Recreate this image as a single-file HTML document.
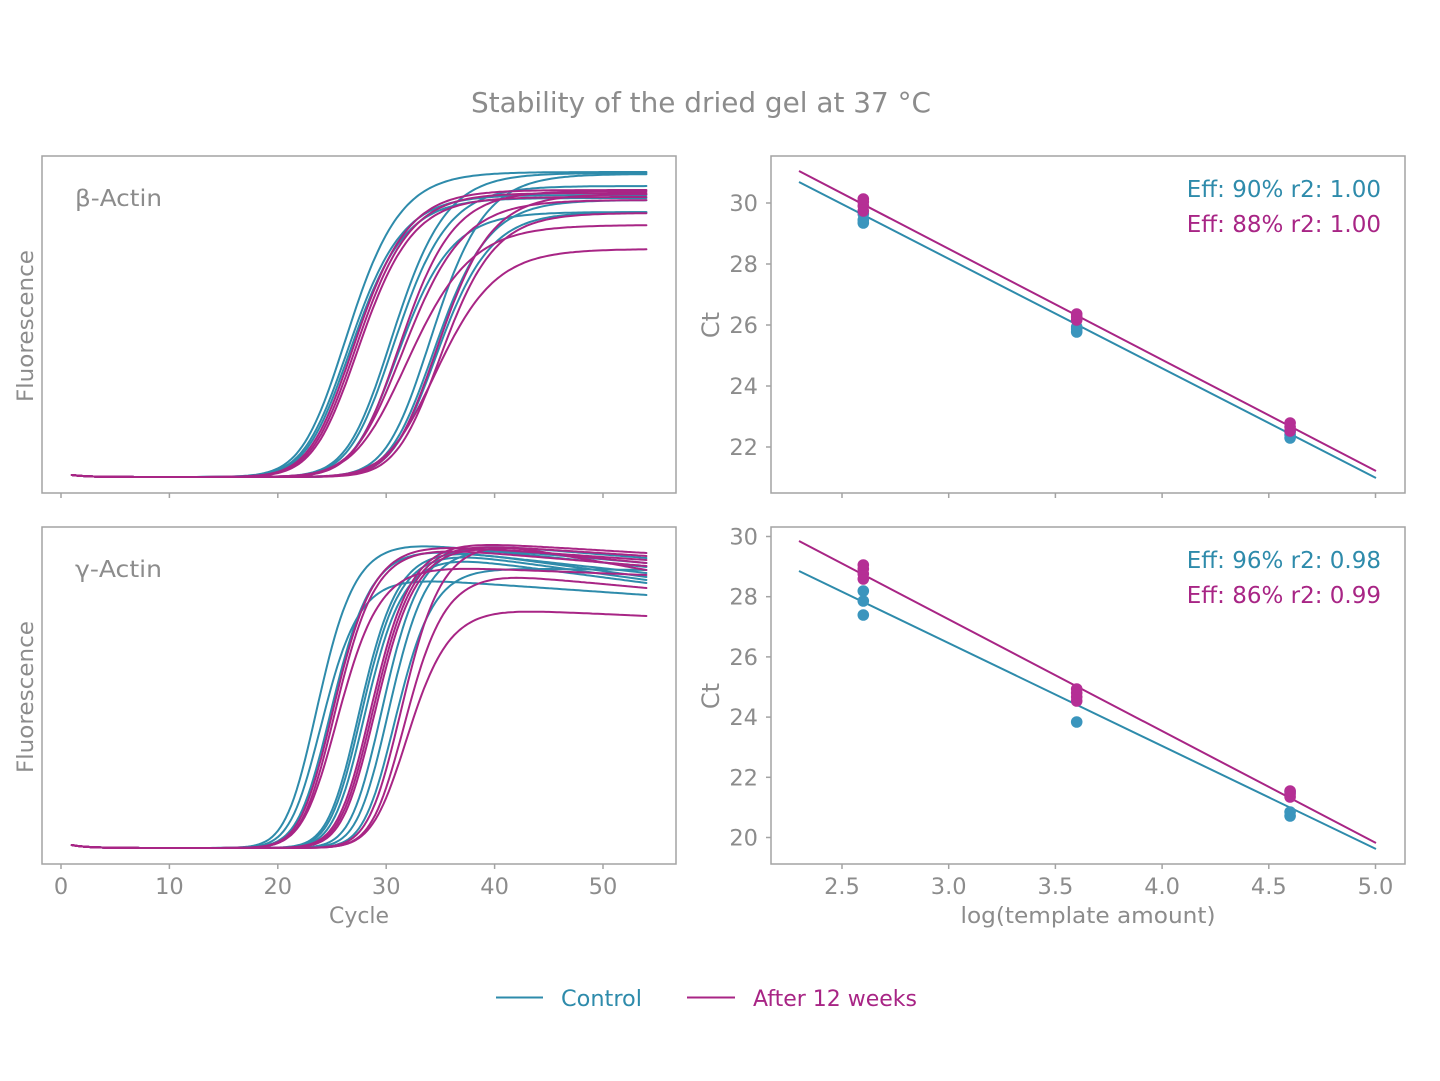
<!DOCTYPE html>
<html>
<head>
<meta charset="utf-8">
<style>
  html,body{margin:0;padding:0;background:#fff;}
  svg{display:block;}
  text{font-family:"DejaVu Sans","Liberation Sans",sans-serif;fill:#8c8c8c;}
</style>
</head>
<body>
<svg id="s" xmlns="http://www.w3.org/2000/svg" width="1440" height="1081" viewBox="0 0 1440 1081">
  <rect x="0" y="0" width="1440" height="1081" fill="#ffffff"/>
  <defs>
    <clipPath id="cTL"><rect x="43" y="157" width="632" height="335"/></clipPath>
    <clipPath id="cBL"><rect x="43" y="528" width="632" height="335"/></clipPath>
    <clipPath id="cTR"><rect x="772" y="157" width="632" height="335"/></clipPath>
    <clipPath id="cBR"><rect x="772" y="528" width="632" height="335"/></clipPath>
  </defs>

  <!-- Title -->
  <text x="701" y="112" font-size="28" text-anchor="middle" textLength="460" lengthAdjust="spacingAndGlyphs">Stability of the dried gel at 37 °C</text>

  <!-- curves groups -->
  <g id="tl" clip-path="url(#cTL)"></g>
  <g id="bl" clip-path="url(#cBL)"></g>

  <!-- Right panels regression lines -->
  <g clip-path="url(#cTR)">
    <line x1="799" y1="182" x2="1376" y2="478" stroke="#2e8bab" stroke-width="2"/>
    <line x1="799" y1="171" x2="1376" y2="471" stroke="#a82585" stroke-width="2"/>
  </g>
  <g clip-path="url(#cBR)">
    <line x1="799" y1="571" x2="1376" y2="849" stroke="#2e8bab" stroke-width="2"/>
    <line x1="799" y1="541" x2="1376" y2="843" stroke="#a82585" stroke-width="2"/>
  </g>
  <g id="dots"></g>

  <!-- Panel borders -->
  <g fill="none" stroke="#a3a3a3" stroke-width="1.5">
    <rect x="42" y="156" width="634" height="337"/>
    <rect x="771" y="156" width="634" height="337"/>
    <rect x="42" y="527" width="634" height="337"/>
    <rect x="771" y="527" width="634" height="337"/>
  </g>

  <!-- ticks -->
  <g id="ticks" stroke="#a3a3a3" stroke-width="1.5"></g>
  <g id="labels"></g>

  <!-- panel labels -->
  <text x="75" y="206" font-size="23" textLength="87" lengthAdjust="spacingAndGlyphs">β-Actin</text>
  <text x="75" y="577" font-size="23" textLength="87" lengthAdjust="spacingAndGlyphs">γ-Actin</text>

  <!-- Eff labels -->
  <text x="1381" y="197" font-size="23" text-anchor="end" style="fill:#2e8bab">Eff: 90% r2: 1.00</text>
  <text x="1381" y="232" font-size="23" text-anchor="end" style="fill:#a82585">Eff: 88% r2: 1.00</text>
  <text x="1381" y="568" font-size="23" text-anchor="end" style="fill:#2e8bab">Eff: 96% r2: 0.98</text>
  <text x="1381" y="603" font-size="23" text-anchor="end" style="fill:#a82585">Eff: 86% r2: 0.99</text>

  <!-- axis labels -->
  <text transform="translate(33,326) rotate(-90)" font-size="22" text-anchor="middle" textLength="152" lengthAdjust="spacingAndGlyphs">Fluorescence</text>
  <text transform="translate(33,697) rotate(-90)" font-size="22" text-anchor="middle" textLength="152" lengthAdjust="spacingAndGlyphs">Fluorescence</text>
  <text transform="translate(719,325) rotate(-90)" font-size="24" text-anchor="middle">Ct</text>
  <text transform="translate(719,696) rotate(-90)" font-size="24" text-anchor="middle">Ct</text>
  <text x="359" y="923" font-size="22" text-anchor="middle" textLength="60" lengthAdjust="spacingAndGlyphs">Cycle</text>
  <text x="1088" y="923" font-size="22" text-anchor="middle" textLength="255" lengthAdjust="spacingAndGlyphs">log(template amount)</text>

  <!-- legend -->
  <line x1="496" y1="997.5" x2="543" y2="997.5" stroke="#2e8bab" stroke-width="2"/>
  <text x="561" y="1006" font-size="22" textLength="81" lengthAdjust="spacingAndGlyphs" style="fill:#2e8bab">Control</text>
  <line x1="687" y1="997.5" x2="735" y2="997.5" stroke="#a82585" stroke-width="2"/>
  <text x="753" y="1006" font-size="22" textLength="164" lengthAdjust="spacingAndGlyphs" style="fill:#a82585">After 12 weeks</text>
</svg>

<script>
(function(){
  var NS='http://www.w3.org/2000/svg';
  var T='#2e8bab', M='#a82585';
  var TD='#3a95bd', MD='#b52f95';
  function el(name, attrs, parent, txt){
    var e=document.createElementNS(NS,name);
    for(var k in attrs) e.setAttribute(k, attrs[k]);
    if(txt!==undefined) e.textContent=txt;
    document.getElementById(parent).appendChild(e);
    return e;
  }
  function L(c,c0,s){return 1/(1+Math.exp(-(c-c0)/s));}
  // asymmetric sigmoid: sharp start, gradual top; m = 50% point
  function F(c,m,s){var l=L(c,m-0.881*s,s);return l*l;}
  function X(c){return 61+10.84*c;}
  function addPath(gid, pts, col){
    var d='M'+pts.map(function(p){return p[0].toFixed(1)+','+p[1].toFixed(1);}).join('L');
    el('path',{d:d,stroke:col,fill:'none','stroke-width':'2','stroke-linejoin':'round','stroke-linecap':'round'},gid);
  }

  // ---------- Top-left (beta-actin) ----------
  var base1=477;
  var tl=[
    [T,26.7,2.7,172],[T,26.9,2.7,195],[T,27.1,2.7,198],
    [T,30.9,2.7,173],[T,31.1,2.7,186],[T,31.4,2.7,212],
    [T,34.5,2.7,174],[T,34.8,2.7,200],[T,35.0,2.7,212],
    [M,27.4,2.7,190],[M,27.6,2.7,193],[M,27.8,2.7,197],
    [M,31.6,2.7,191],[M,32.0,3.0,200],[M,32.4,3.2,225],
    [M,35.1,2.7,194],[M,35.4,2.7,213],[M,35.0,3.0,249]
  ];
  tl.forEach(function(sp){
    var pts=[];
    for(var c=1;c<=54.001;c+=0.25){
      var b=base1-2*Math.exp(-(c-1)/1.5);
      var y=b-(base1-sp[3])*F(c,sp[1],sp[2]);
      pts.push([X(c),y]);
    }
    addPath('tl',pts,sp[0]);
  });

  // ---------- Bottom-left (gamma-actin) ----------
  var base2=848;
  var bl=[
    [T,23.9,1.9,542,31.5,567],[T,24.3,1.9,577,30,595],[T,25.2,2.0,548,33,573],
    [T,27.8,1.9,550,36,577],[T,28.0,1.9,553,36,580],[T,28.3,1.9,556,35,583],
    [T,29.9,1.9,544,38,558],[T,30.5,1.9,548,38,563],[T,31.1,1.9,568,38,570],
    [M,25.4,2.0,545,34,560],[M,25.6,2.0,548,34,566],[M,25.8,2.1,566,33,575],
    [M,28.9,2.0,542,37,553],[M,29.1,2.0,544,37,556],[M,29.3,2.0,546,38,563],
    [M,31.7,2.0,543,40,570],[M,32.0,2.0,575,41,588],[M,32.2,2.1,609,40,616]
  ];
  bl.forEach(function(sp){
    var m=sp[1], s=sp[2], Hpk=base2-sp[3], cpk=sp[4], Hend=base2-sp[5];
    var pts=[];
    for(var c=1;c<=54.001;c+=0.25){
      var b=base2-3*Math.exp(-(c-1)/1.5);
      var t=(c-cpk)/(54-cpk);
      var sm=0.08;
      var g=sm*Math.log(1+Math.exp(t/sm));
      if(t<-0.5) g=0;
      g=Math.min(g,1.02);
      var H=Hpk-(Hpk-Hend)*g;
      var y=b-H*F(c,m,s);
      pts.push([X(c),y]);
    }
    addPath('bl',pts,sp[0]);
  });

  // ---------- Dots ----------
  var x1=863.3, x2=1076.7, x3=1290.1;
  var dotsT=[[x1,223],[x1,220],[x1,214],[x2,332],[x2,329],[x2,327],[x3,438],[x3,435],[x3,432],
             [x1,615],[x1,601],[x1,591],[x2,722],[x3,816],[x3,812],[x3,792]];
  var dotsM=[[x1,211],[x1,206],[x1,202],[x1,199],[x2,320],[x2,317],[x2,314],[x3,431],[x3,427],[x3,423],
             [x1,579],[x1,574],[x1,569],[x1,565],[x2,701],[x2,697],[x2,693],[x2,689],[x3,797],[x3,794],[x3,791]];
  dotsT.forEach(function(p){el('circle',{cx:p[0],cy:p[1],r:5.8,fill:TD},'dots');});
  dotsM.forEach(function(p){el('circle',{cx:p[0],cy:p[1],r:5.8,fill:MD},'dots');});

  // ---------- Ticks & labels ----------
  var i, x, y, v;
  for(i=0;i<=5;i++){
    x=61+108.4*i;
    el('line',{x1:x,y1:493,x2:x,y2:498},'ticks');
    el('line',{x1:x,y1:864,x2:x,y2:869},'ticks');
    el('text',{x:x,y:894,'font-size':'22.5','text-anchor':'middle'},'labels',String(i*10));
  }
  var rl=['2.5','3.0','3.5','4.0','4.5','5.0'];
  for(i=0;i<6;i++){
    x=842+106.7*i;
    el('line',{x1:x,y1:493,x2:x,y2:498},'ticks');
    el('line',{x1:x,y1:864,x2:x,y2:869},'ticks');
    el('text',{x:x,y:894,'font-size':'22.5','text-anchor':'middle'},'labels',rl[i]);
  }
  for(v=22;v<=30;v+=2){
    y=203+30.5*(30-v);
    el('line',{x1:766,y1:y,x2:771,y2:y},'ticks');
    el('text',{x:758,y:y+8,'font-size':'22.5','text-anchor':'end'},'labels',String(v));
  }
  for(v=20;v<=30;v+=2){
    y=536.5+30.1*(30-v);
    el('line',{x1:766,y1:y,x2:771,y2:y},'ticks');
    el('text',{x:758,y:y+8,'font-size':'22.5','text-anchor':'end'},'labels',String(v));
  }
})();
</script>
</body>
</html>
